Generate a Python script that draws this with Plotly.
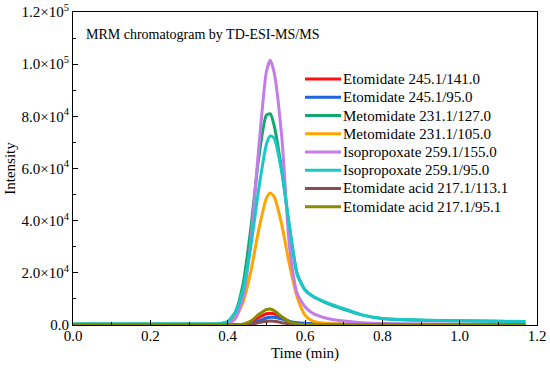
import plotly.graph_objects as go

time_min = [0.0, 0.1, 0.2, 0.3, 0.38, 0.40, 0.42, 0.44, 0.46, 0.48, 0.50, 0.51, 0.52,
            0.54, 0.56, 0.58, 0.60, 0.62, 0.65, 0.70, 0.75, 0.80, 0.90, 1.00, 1.10, 1.17]

etomidate_141 = [100, 100, 100, 100, 100, 100, 120, 200, 1000, 2800, 4300, 4500, 4300,
                 2900, 1300, 600, 300, 200, 150, 120, 100, 100, 100, 100, 100, 100]
etomidate_95 = [100, 100, 100, 100, 100, 100, 100, 150, 500, 1500, 2700, 2950, 3000,
                2300, 1400, 900, 700, 550, 400, 250, 200, 150, 120, 100, 100, 100]
metomidate_127 = [400, 400, 400, 400, 500, 1200, 5000, 15900, 37200, 63800, 80400, 81000, 76600,
                  59200, 37200, 19500, 13500, 11000, 8800, 6000, 3800, 2500, 1800, 1600, 1400, 1300]
metomidate_105 = [150, 150, 150, 150, 200, 500, 2900, 8800, 20600, 36300, 48500, 50600, 49300,
                  38400, 23000, 10600, 3800, 1500, 700, 400, 300, 250, 200, 200, 200, 200]
isopropoxate_155 = [200, 200, 200, 200, 250, 400, 2500, 10700, 32200, 67200, 97000, 101500, 97000,
                    72000, 30000, 12000, 7000, 4500, 2800, 1500, 900, 600, 400, 300, 300, 300]
isopropoxate_95 = [400, 400, 400, 400, 500, 1350, 4900, 13800, 30300, 51800, 69100, 72500, 71700,
                   58600, 37700, 19200, 13400, 11000, 9000, 6300, 3800, 2500, 1900, 1650, 1450, 1300]
acid_113 = [50, 50, 50, 50, 50, 50, 60, 100, 300, 900, 1400, 1500, 1400,
            900, 400, 150, 100, 80, 60, 50, 50, 50, 50, 50, 50, 50]
acid_95 = [100, 100, 100, 100, 100, 100, 120, 300, 1500, 4000, 5900, 6100, 5500,
           3200, 1200, 400, 150, 120, 100, 100, 100, 100, 100, 100, 100, 100]

series_names = ["Etomidate 245.1/141.0", "Etomidate 245.1/95.0", "Metomidate 231.1/127.0",
                "Metomidate 231.1/105.0", "Isopropoxate 259.1/155.0", "Isopropoxate 259.1/95.0",
                "Etomidate acid 217.1/113.1", "Etomidate acid 217.1/95.1"]
series_values = [etomidate_141, etomidate_95, metomidate_127, metomidate_105,
                 isopropoxate_155, isopropoxate_95, acid_113, acid_95]
series_colors = ["#FF1010", "#1E64E0", "#15A86E", "#FFA500", "#C47CE6", "#18C8C8", "#8B4C4C", "#8A8A00"]

y_tickvals = [0, 20000, 40000, 60000, 80000, 100000, 120000]
y_ticktext = ["0.0", "2.0×10<sup>4</sup>", "4.0×10<sup>4</sup>", "6.0×10<sup>4</sup>",
              "8.0×10<sup>4</sup>", "1.0×10<sup>5</sup>", "1.2×10<sup>5</sup>"]
x_tickvals = [0.0, 0.2, 0.4, 0.6, 0.8, 1.0, 1.2]
x_ticktext = ["0.0", "0.2", "0.4", "0.6", "0.8", "1.0", "1.2"]

FONT = "Liberation Serif"

# plot area geometry (pixels) used to place the custom legend
L, R, T, B = 73, 13, 12, 43
W, H = 550, 368
PW, PH = W - L - R, H - T - B

def px_to_paper_x(px):
    return (px - L) / PW

def px_to_paper_y(py):
    return (H - B - py) / PH

fig = go.Figure()
for name, vals, col in zip(series_names, series_values, series_colors):
    fig.add_trace(go.Scatter(x=time_min, y=vals, name=name, mode="lines", showlegend=False,
                             hoverinfo="skip",
                             line=dict(color=col, width=3, shape="spline", smoothing=0.6)))

shapes = []
annotations = [dict(text="MRM chromatogram by TD-ESI-MS/MS", xref="paper", yref="paper",
                    x=px_to_paper_x(84), y=px_to_paper_y(34), xanchor="left", yanchor="middle",
                    showarrow=False, font=dict(family=FONT, size=14))]
legend_top, legend_step = 79.0, 18.25
for i, (name, col) in enumerate(zip(series_names, series_colors)):
    yy = px_to_paper_y(legend_top + i * legend_step)
    shapes.append(dict(type="line", xref="paper", yref="paper",
                       x0=px_to_paper_x(305), x1=px_to_paper_x(341), y0=yy, y1=yy,
                       line=dict(color=col, width=3)))
    annotations.append(dict(text=name, xref="paper", yref="paper", x=px_to_paper_x(341), y=yy,
                            xanchor="left", yanchor="middle", showarrow=False,
                            font=dict(family=FONT, size=15)))

fig.update_layout(
    width=W, height=H,
    margin=dict(l=L, r=R, t=T, b=B, autoexpand=False),
    paper_bgcolor="white", plot_bgcolor="white",
    font=dict(family=FONT, size=15, color="black"),
    showlegend=False,
    shapes=shapes,
    annotations=annotations,
    xaxis=dict(range=[0, 1.2], tickvals=x_tickvals, ticktext=x_ticktext, automargin=False,
               showline=True, linecolor="black", linewidth=1, mirror=True,
               ticks="inside", ticklen=5, tickcolor="black", showgrid=False, zeroline=False,
               ticklabelstandoff=-3,
               minor=dict(ticks="inside", ticklen=3, dtick=0.1, tick0=0, tickcolor="black"),
               title=dict(text="Time (min)", font=dict(family=FONT, size=15), standoff=4),
               tickfont=dict(family=FONT, size=15)),
    yaxis=dict(range=[0, 120000], tickvals=y_tickvals, ticktext=y_ticktext, automargin=False,
               showline=True, linecolor="black", linewidth=1, mirror=True,
               ticks="inside", ticklen=5, tickcolor="black", showgrid=False, zeroline=False,
               minor=dict(ticks="inside", ticklen=3, dtick=10000, tick0=0, tickcolor="black"),
               title=dict(text="Intensity", font=dict(family=FONT, size=15), standoff=2),
               tickfont=dict(family=FONT, size=15)),
)

fig.write_html("out.html", config={"displayModeBar": False},
               post_script="document.body.style.margin='0px';")
